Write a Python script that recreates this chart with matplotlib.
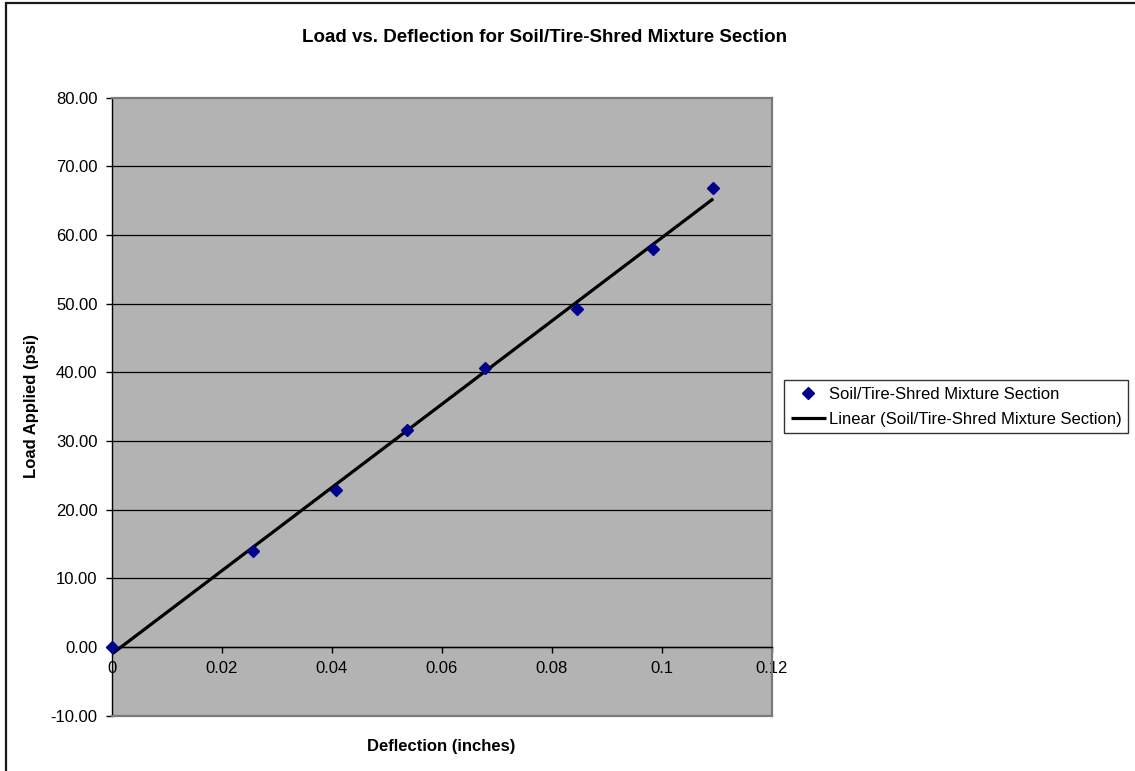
import numpy as np
import matplotlib
matplotlib.use("Agg")
import matplotlib.pyplot as plt
from matplotlib.patches import Rectangle
from matplotlib.ticker import FixedLocator, FuncFormatter

plt.rcParams['font.family'] = ['Liberation Sans', 'DejaVu Sans']

# Measured deflection (inches) and applied load (psi)
deflection = [0.0, 0.0258, 0.0408, 0.0538, 0.0679, 0.0847, 0.0984, 0.1094]
load = [0.0, 13.95, 22.8, 31.6, 40.6, 49.2, 57.9, 66.8]

x_ticks = [0, 0.02, 0.04, 0.06, 0.08, 0.1, 0.12]
x_tick_labels = ["0", "0.02", "0.04", "0.06", "0.08", "0.1", "0.12"]
y_ticks = [-10, 0, 10, 20, 30, 40, 50, 60, 70, 80]

series_name = "Soil/Tire-Shred Mixture Section"
title = "Load vs. Deflection for Soil/Tire-Shred Mixture Section"

W, H = 1135, 771
fig = plt.figure(figsize=(W / 100, H / 100), dpi=100)
fig.patch.set_facecolor("white")

# outer chart-area frame
fig.add_artist(Rectangle((6 / W, -0.05), 1.1, 1 - 3 / H + 0.05,
                         transform=fig.transFigure, fill=False,
                         edgecolor="#1a1a1a", linewidth=1.6))

left, right, top, bottom = 111.5, 771.5, 97.5, 715.5
ax = fig.add_axes([left / W, 1 - bottom / H, (right - left) / W, (bottom - top) / H])
ax.set_facecolor("#b3b3b3")
ax.set_xlim(0, 0.12)
ax.set_ylim(-10, 80)

# horizontal gridlines
for yv in y_ticks[1:-1]:
    ax.axhline(yv, color="black", linewidth=0.9, zorder=1)

# plot-area border
for side in ("top", "right"):
    ax.spines[side].set_color("#7a7a7a")
    ax.spines[side].set_linewidth(1.6)
ax.spines["left"].set_color("black")
ax.spines["left"].set_linewidth(1.0)
ax.spines["bottom"].set_position(("data", 0))
ax.spines["bottom"].set_color("black")
ax.spines["bottom"].set_linewidth(1.0)
ax.plot([0, 1], [0, 0], transform=ax.transAxes, color="#7a7a7a",
        linewidth=1.6, clip_on=False, zorder=3)

ax.xaxis.set_major_locator(FixedLocator(x_ticks))
ax.set_xticklabels(x_tick_labels)
ax.yaxis.set_major_locator(FixedLocator(y_ticks))
ax.yaxis.set_major_formatter(FuncFormatter(lambda v, p: f"{v:.2f}"))
ax.tick_params(axis="x", direction="out", length=4.5, width=1.0,
               color="black", labelsize=12, pad=6)
ax.tick_params(axis="y", direction="out", length=4, width=1.0,
               color="black", labelsize=12, pad=6)

# data points and least-squares trendline
ax.plot(deflection, load, linestyle="none", marker="D", markersize=6.5,
        color="#00008b", markeredgecolor="#00008b", zorder=5,
        label=series_name, clip_on=False)
slope, intercept = np.polyfit(deflection, load, 1)
xs = np.array([0.0, max(deflection)])
ax.plot(xs, slope * xs + intercept, color="black", linewidth=2.3, zorder=4,
        label=f"Linear ({series_name})", solid_capstyle="butt")

ax.set_xlabel("Deflection (inches)", fontsize=12, fontweight="bold")
ax.xaxis.set_label_coords((441.5 - left) / (right - left), (bottom - 746) / (bottom - top))
ax.xaxis.label.set_va("center")
ax.set_ylabel("Load Applied (psi)", fontsize=12, fontweight="bold")
ax.yaxis.set_label_coords((32 - left) / (right - left), 0.5)
ax.yaxis.label.set_va("center")

fig.text(545 / W, 1 - 38 / H, title, fontsize=13.5, fontweight="bold",
         ha="center", va="center")

leg = fig.legend(loc="upper left", bbox_to_anchor=(784 / W, 1 - 380 / H),
                 bbox_transform=fig.transFigure, fontsize=12, frameon=True,
                 fancybox=False, shadow=False, edgecolor="black",
                 handlelength=2.1, handletextpad=0.2, borderpad=0.4,
                 labelspacing=0.6, borderaxespad=0, numpoints=1)
leg.get_frame().set_linewidth(1.0)

fig.savefig("out.png", dpi=100, facecolor="white")
